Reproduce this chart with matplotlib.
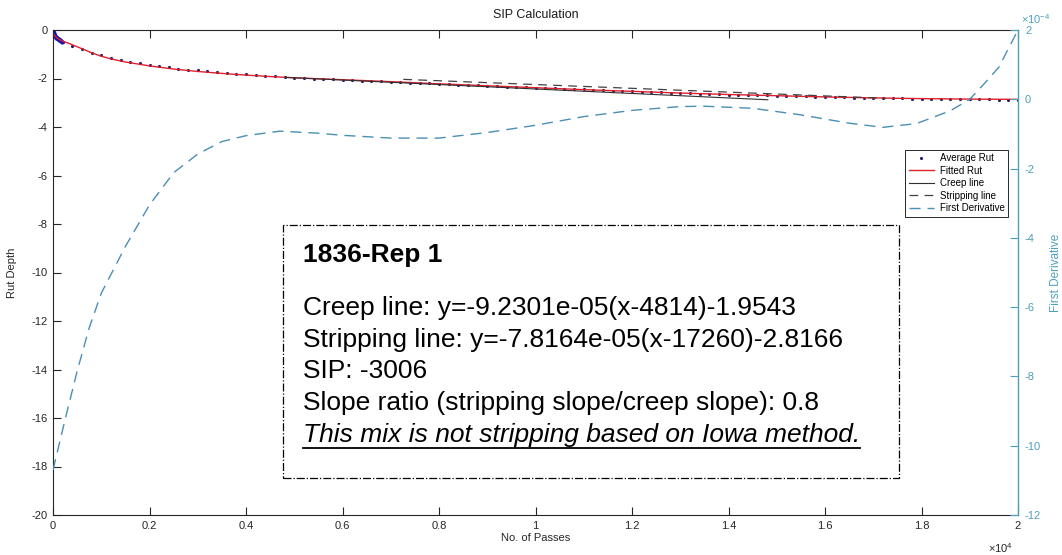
import matplotlib
matplotlib.use("Agg")
import matplotlib.pyplot as plt
from matplotlib.patches import Rectangle
from matplotlib.lines import Line2D

plt.rcParams['font.family'] = ['Liberation Sans', 'DejaVu Sans']
plt.rcParams['mathtext.fontset'] = 'custom'
plt.rcParams['mathtext.rm'] = 'Liberation Sans'
plt.rcParams['axes.unicode_minus'] = False

# ---- data ----
# dense measurements at the very start
rut_start_x = [0, 5, 10, 15, 20, 30, 40, 50, 60, 70, 80, 90, 100, 115, 130, 145, 160, 175, 190]
rut_start_y = [0.0, -0.06, -0.10, -0.13, -0.16, -0.20, -0.23, -0.26, -0.29, -0.31, -0.33,
               -0.35, -0.37, -0.39, -0.41, -0.43, -0.45, -0.47, -0.48]
# average rut every 200 passes
rut_x = list(range(200, 20001, 200))
rut_y = [-0.49, -0.64, -0.79, -0.93, -1.05, -1.15, -1.24, -1.31, -1.38, -1.44,
         -1.49, -1.54, -1.59, -1.63, -1.67, -1.70, -1.74, -1.77, -1.80, -1.83,
         -1.86, -1.89, -1.91, -1.94, -1.96, -1.98, -2.00, -2.02, -2.03, -2.05,
         -2.07, -2.09, -2.10, -2.12, -2.13, -2.15, -2.17, -2.18, -2.20, -2.22,
         -2.23, -2.25, -2.27, -2.28, -2.30, -2.31, -2.33, -2.35, -2.36, -2.38,
         -2.39, -2.41, -2.42, -2.44, -2.45, -2.47, -2.48, -2.50, -2.51, -2.53,
         -2.54, -2.55, -2.57, -2.58, -2.60, -2.61, -2.62, -2.63, -2.65, -2.66,
         -2.67, -2.68, -2.69, -2.70, -2.71, -2.72, -2.73, -2.74, -2.75, -2.76,
         -2.77, -2.78, -2.79, -2.79, -2.80, -2.81, -2.82, -2.82, -2.83, -2.83,
         -2.84, -2.84, -2.85, -2.85, -2.86, -2.86, -2.86, -2.87, -2.87, -2.87]

fit_x = [0, 50, 100, 200, 300, 400, 500, 600, 800, 1000, 1200, 1500, 2000, 2500, 3000,
         3500, 4000, 4500, 5000, 6000, 7000, 8000, 9000, 10000, 11000, 12000, 13000,
         14000, 15000, 16000, 17000, 18000, 19000, 20000]
fit_y = [-0.12, -0.27, -0.36, -0.46, -0.53, -0.61, -0.69, -0.77, -0.94, -1.08, -1.19,
         -1.32, -1.48, -1.61, -1.71, -1.79, -1.86, -1.92, -1.97, -2.05, -2.13, -2.22,
         -2.30, -2.38, -2.46, -2.53, -2.60, -2.66, -2.71, -2.76, -2.80, -2.83, -2.85, -2.86]

creep_x = [4814, 14814]
creep_y = [-1.9543, -2.8773]
strip_x = [7260, 17260]
strip_y = [-2.0350, -2.8166]

# first derivative (units of 1e-4)
der_x = [0, 250, 500, 750, 1000, 1500, 2000, 2500, 3000, 3500, 4000, 4700, 5500, 6000,
         7000, 8000, 9000, 10000, 11000, 12000, 13000, 13500, 14500, 15500, 16500, 17200,
         17900, 18600, 19000, 19300, 19600, 20000]
der_y = [-10.7, -9.25, -7.85, -6.6, -5.6, -4.25, -3.05, -2.12, -1.58, -1.22, -1.05, -0.92,
         -0.98, -1.04, -1.12, -1.12, -0.96, -0.75, -0.5, -0.32, -0.21, -0.2, -0.26, -0.45,
         -0.69, -0.81, -0.7, -0.33, 0.0, 0.45, 0.92, 2.0]

xticks = [0, 2000, 4000, 6000, 8000, 10000, 12000, 14000, 16000, 18000, 20000]
xtick_labels = ['0', '0.2', '0.4', '0.6', '0.8', '1', '1.2', '1.4', '1.6', '1.8', '2']

info_title = "1836-Rep 1"
info_lines = ["Creep line: y=-9.2301e-05(x-4814)-1.9543",
              "Stripping line: y=-7.8164e-05(x-17260)-2.8166",
              "SIP: -3006",
              "Slope ratio (stripping slope/creep slope): 0.8"]
info_note = "This mix is not stripping based on Iowa method."

# ---- figure ----
W, H = 1062, 555
fig = plt.figure(figsize=(W / 100, H / 100), dpi=100)
fig.patch.set_facecolor('white')

ax_l, ax_r, ax_t, ax_b = 53, 1018, 30, 515
ax1 = fig.add_axes([ax_l / W, 1 - ax_b / H, (ax_r - ax_l) / W, (ax_b - ax_t) / H])
ax2 = ax1.twinx()

dark = '#262626'
teal = '#4f9fba'
der_col = '#4a8fb5'

ax1.plot(rut_start_x + rut_x, rut_start_y + rut_y, linestyle='none', marker='.',
         markersize=2.5, color='#1c1c70', label='Average Rut')
ax1.plot(rut_start_x, rut_start_y, linestyle='none', marker='.', markersize=4, color='#1414b4')
ax1.plot(fit_x, fit_y, color='#e0202a', lw=1.0, label='Fitted Rut')
ax1.plot(creep_x, creep_y, color='#303030', lw=0.8, label='Creep line')
ax1.plot(strip_x, strip_y, color='#404040', lw=0.9, linestyle=(0, (7, 5)), label='Stripping line')
ax2.plot(der_x, der_y, color=der_col, lw=1.0, linestyle=(0, (8, 5)), label='First Derivative')

ax1.set_xlim(0, 20000)
ax1.set_ylim(-20, 0)
ax2.set_ylim(-12, 2)
ax1.set_xticks(xticks)
ax1.set_xticklabels(xtick_labels)
ax1.set_yticks(range(-20, 1, 2))
ax2.set_yticks(range(-12, 3, 2))

for s in ['left', 'bottom', 'top']:
    ax1.spines[s].set_color(dark)
    ax1.spines[s].set_linewidth(0.8)
ax1.spines['right'].set_visible(False)
for s in ['left', 'bottom', 'top']:
    ax2.spines[s].set_visible(False)
ax2.spines['right'].set_color(teal)
ax2.spines['right'].set_linewidth(1.0)

ax1.tick_params(axis='both', direction='in', length=6, width=0.8, colors=dark,
                labelsize=8, pad=4, top=True, right=False)
ax2.tick_params(axis='y', direction='in', length=5.5, width=0.8, colors=teal,
                labelsize=8, pad=5)

ax1.set_ylabel('Rut Depth', fontsize=8, color=dark, labelpad=10)
ax1.set_xlabel('No. of Passes', fontsize=8, color=dark, labelpad=2)
ax2.set_ylabel('First Derivative', fontsize=8.5, color=teal, labelpad=6)
ax1.set_title('SIP Calculation', fontsize=9, color='#1a1a1a', pad=9)

fig.text(1021 / W, 1 - 24 / H, r'$\times10^{-4}$', color=teal, fontsize=8, va='baseline')
fig.text(988 / W, 1 - 553 / H, r'$\times10^{4}$', color=dark, fontsize=8, va='baseline')

# legend
h1, l1 = ax1.get_legend_handles_labels()
h2, l2 = ax2.get_legend_handles_labels()
leg = ax2.legend(h1 + h2, l1 + l2, loc='upper right',
                 bbox_to_anchor=((1008 - ax_l) / (ax_r - ax_l), (ax_b - 150) / (ax_b - ax_t)),
                 fontsize=7, frameon=True, fancybox=False, framealpha=1, edgecolor=dark,
                 handlelength=2.6, handletextpad=0.6, labelspacing=0.25, borderpad=0.35,
                 borderaxespad=0, markerscale=1.0)
leg.get_frame().set_linewidth(0.7)

# info box
box = Rectangle((283 / W, 1 - 478 / H), (899 - 283) / W, (478 - 225) / H,
                transform=fig.transFigure, facecolor='white', edgecolor='black',
                linewidth=0.9, linestyle='-.', zorder=5)
fig.patches.append(box)

tx = 303 / W
fig.text(tx, 1 - 262 / H, info_title, fontsize=19, fontweight='bold', va='baseline', zorder=6)
baselines = [315, 347, 378, 410]
for line, yb in zip(info_lines, baselines):
    fig.text(tx, 1 - yb / H, line, fontsize=19, va='baseline', zorder=6)
note = fig.text(tx, 1 - 442 / H, info_note, fontsize=19, style='italic', va='baseline', zorder=6)

fig.canvas.draw()
bb = note.get_window_extent()
fig.lines.append(Line2D([bb.x0 / W, bb.x1 / W], [1 - 448 / H, 1 - 448 / H],
                        transform=fig.transFigure, color='black', lw=1.3, zorder=6))

fig.savefig('out.png', dpi=100, facecolor='white')
